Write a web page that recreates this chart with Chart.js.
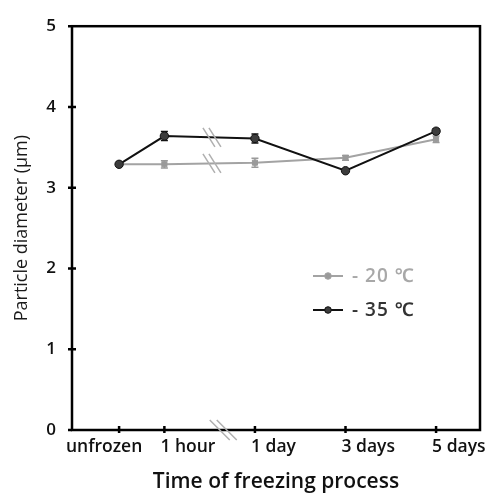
<!DOCTYPE html>
<html><head><meta charset="utf-8">
<script src="https://cdn.jsdelivr.net/npm/chart.js@4.4.0/dist/chart.umd.min.js"></script>
<style>html,body{margin:0;padding:0;background:#fff}#wrap{width:489px;height:495px}</style>
</head><body><div id="wrap"><canvas id="c" width="489" height="495"></canvas></div>
<script>
const categories = ['unfrozen', '1 hour', '1 day', '3 days', '5 days'];
const categoryPos = [0, 1, 3, 5, 7];
const seriesNames = ['- 20 ℃', '- 35 ℃'];
const minus20 = [3.29, 3.29, 3.31, 3.37, 3.60];
const minus20Err = [0, 0.045, 0.055, 0.03, 0.04];
const minus35 = [3.29, 3.64, 3.61, 3.21, 3.70];
const minus35Err = [0, 0.055, 0.055, 0.02, 0.03];
const yTicks = [0, 1, 2, 3, 4, 5];
const axisBreakAt = 2.05;
const axisBreakBottomAt = 2.3;

const GRAY = '#a3a3a3', GRAYM = '#9a9a9a', BLACK = '#111111', BLACKM = '#3c3c3c';
const FONT = "'Open Sans', 'Noto Sans', sans-serif";

function pts(vals) { return vals.map((v, i) => ({ x: categoryPos[i], y: v })); }

const decor = {
  id: 'decor',
  beforeDatasetsDraw(chart) {
    const ctx = chart.ctx, xs = chart.scales.x, ys = chart.scales.y;
    const sets = [[minus35, minus35Err, BLACK], [minus20, minus20Err, GRAYM]];
    ctx.save();
    ctx.lineWidth = 1.5;
    for (const [vals, errs, col] of sets) {
      ctx.strokeStyle = col;
      vals.forEach((v, i) => {
        if (!errs[i]) return;
        const px = xs.getPixelForValue(categoryPos[i]);
        const t = ys.getPixelForValue(v + errs[i]), b = ys.getPixelForValue(v - errs[i]);
        ctx.beginPath();
        ctx.moveTo(px, t); ctx.lineTo(px, b);
        ctx.moveTo(px - 3.5, t); ctx.lineTo(px + 3.5, t);
        ctx.moveTo(px - 3.5, b); ctx.lineTo(px + 3.5, b);
        ctx.stroke();
      });
    }
    ctx.restore();
  },
  afterDraw(chart) {
    const ctx = chart.ctx, a = chart.chartArea, xs = chart.scales.x, ys = chart.scales.y;
    ctx.save();
    ctx.strokeStyle = '#000';
    ctx.lineWidth = 2.5;
    ctx.strokeRect(a.left, a.top, a.right - a.left, a.bottom - a.top);
    ctx.beginPath();
    categoryPos.forEach(p => {
      const px = xs.getPixelForValue(p);
      ctx.moveTo(px, a.bottom - 4); ctx.lineTo(px, a.bottom + 3);
    });
    yTicks.forEach(v => {
      if (v === 0 || v === 5) return;
      const py = ys.getPixelForValue(v);
      ctx.moveTo(a.left - 4, py); ctx.lineTo(a.left + 4, py);
    });
    ctx.moveTo(a.left - 4, a.top); ctx.lineTo(a.left, a.top);
    ctx.moveTo(a.left - 4, a.bottom); ctx.lineTo(a.left, a.bottom);
    ctx.stroke();
    // x tick labels
    ctx.fillStyle = '#111';
    ctx.font = "600 17.5px " + FONT;
    ctx.textBaseline = 'middle';
    categories.forEach((c, i) => {
      const px = xs.getPixelForValue(categoryPos[i]);
      if (i === 0) { ctx.textAlign = 'center'; ctx.fillText(c, px - 15, 447); }
      else { ctx.textAlign = 'left'; ctx.fillText(c, px - 4, 447); }
    });
    // axis breaks
    const slash = (cx, cy, w, h, gap) => {
      ctx.strokeStyle = '#b0b0b0';
      ctx.lineWidth = 1.5;
      ctx.beginPath();
      for (const o of [-gap / 2, gap / 2]) {
        ctx.moveTo(cx + o - w / 2, cy - h / 2);
        ctx.lineTo(cx + o + w / 2, cy + h / 2);
      }
      ctx.stroke();
    };
    const bx = xs.getPixelForValue(axisBreakAt);
    const f = (axisBreakAt - categoryPos[1]) / (categoryPos[2] - categoryPos[1]);
    const y35 = minus35[1] + (minus35[2] - minus35[1]) * f;
    const y20 = minus20[1] + (minus20[2] - minus20[1]) * f;
    slash(bx, ys.getPixelForValue(y35), 12, 19, 6);
    slash(bx, ys.getPixelForValue(y20), 12, 19, 6);
    slash(xs.getPixelForValue(axisBreakBottomAt), a.bottom, 20, 20, 7);
    // legend
    const items = [[seriesNames[0], GRAY, GRAYM, '#a8a8a8'], [seriesNames[1], BLACK, BLACKM, '#333333']];
    items.forEach(([name, lc, mc, tc], i) => {
      const y = 276 + i * 34;
      ctx.strokeStyle = lc; ctx.lineWidth = 2;
      ctx.beginPath(); ctx.moveTo(313, y); ctx.lineTo(343, y); ctx.stroke();
      ctx.fillStyle = mc; ctx.strokeStyle = lc; ctx.lineWidth = 1;
      ctx.beginPath(); ctx.arc(328, y, 3.3, 0, Math.PI * 2); ctx.fill(); ctx.stroke();
      ctx.fillStyle = tc;
      ctx.font = "600 19px " + FONT;
      ctx.letterSpacing = '1px';
      ctx.textBaseline = 'middle'; ctx.textAlign = 'left';
      ctx.fillText(name, 352, y + 1);
      ctx.letterSpacing = '0px';
    });
    ctx.restore();
  }
};

new Chart(document.getElementById('c'), {
  type: 'line',
  data: {
    datasets: [
      { label: seriesNames[1], data: pts(minus35), borderColor: BLACK, backgroundColor: BLACKM,
        pointBorderColor: BLACK, pointBackgroundColor: BLACKM, borderWidth: 2, pointRadius: 4.2, pointBorderWidth: 1, tension: 0 },
      { label: seriesNames[0], data: pts(minus20), borderColor: GRAY, backgroundColor: GRAYM,
        pointBorderColor: GRAYM, pointBackgroundColor: GRAYM, pointStyle: 'rect', borderWidth: 2, pointRadius: 3.6, pointBorderWidth: 1, tension: 0 }
    ]
  },
  options: {
    responsive: false,
    animation: false,
    devicePixelRatio: 1,
    layout: { padding: { top: 23, right: 9, left: 0, bottom: 0 } },
    plugins: { legend: { display: false }, tooltip: { enabled: false } },
    scales: {
      x: {
        type: 'linear', min: -1.04, max: 7.97,
        afterBuildTicks: s => { s.ticks = categoryPos.map(v => ({ value: v })); },
        afterFit: s => { s.height = 65; },
        grid: { display: false, drawTicks: false },
        border: { display: false },
        ticks: { display: false },
        title: { display: true, text: 'Time of freezing process', color: '#111',
          font: { family: FONT, size: 21, weight: '600' }, padding: { top: 0, bottom: 0 } }
      },
      y: {
        min: 0, max: 5,
        afterBuildTicks: s => { s.ticks = yTicks.map(v => ({ value: v })); },
        afterFit: s => { s.width = 72; },
        grid: { display: false, drawTicks: false },
        border: { display: false },
        ticks: { padding: 16, color: '#111', font: { family: FONT, size: 17, weight: '600' } },
        title: { display: true, text: 'Particle diameter (μm)', color: '#1a1a1a',
          font: { family: FONT, size: 18, weight: '500' }, padding: { top: 11, bottom: 0 } }
      }
    }
  },
  plugins: [decor]
});
</script></body></html>
